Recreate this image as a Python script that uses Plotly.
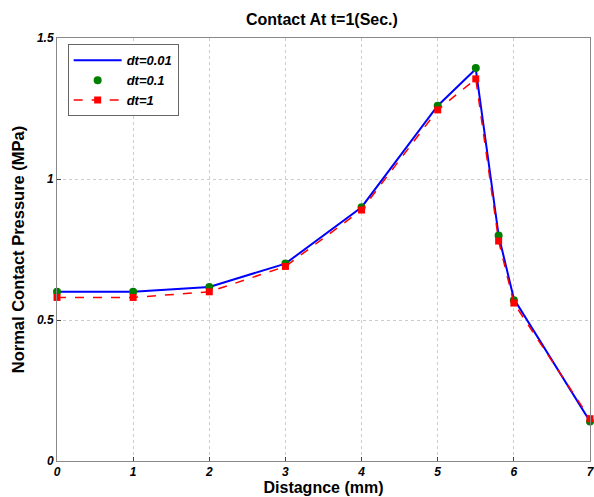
import plotly.graph_objects as go

x_vals = [0, 1, 2, 3, 4, 5, 5.5, 5.8, 6, 7]
dt001 = [0.60, 0.60, 0.617, 0.70, 0.90, 1.26, 1.39, 0.80, 0.575, 0.14]
dt01 = [0.60, 0.60, 0.617, 0.70, 0.90, 1.26, 1.394, 0.80, 0.57, 0.14]
dt1 = [0.58, 0.58, 0.60, 0.69, 0.89, 1.245, 1.355, 0.78, 0.56, 0.15]
x_ticks = [0, 1, 2, 3, 4, 5, 6, 7]
y_ticks = [0, 0.5, 1, 1.5]
y_tick_text = ["0", "0.5", "1", "1.5"]

fig = go.Figure()
fig.add_trace(go.Scatter(x=x_vals, y=dt001, mode="lines", name="dt=0.01",
                         line=dict(color="#0000ff", width=2), cliponaxis=False))
fig.add_trace(go.Scatter(x=x_vals, y=dt01, mode="markers", name="dt=0.1",
                         marker=dict(color="#007f00", size=8, symbol="circle"),
                         cliponaxis=False))
fig.add_trace(go.Scatter(x=x_vals, y=dt1, mode="lines+markers", name="dt=1",
                         line=dict(color="#ff0000", width=1.5, dash="dash"),
                         marker=dict(color="#ff0000", size=7, symbol="square"),
                         cliponaxis=False))

fig.update_layout(
    width=594, height=497,
    margin=dict(l=57, r=4, t=38, b=36),
    paper_bgcolor="white", plot_bgcolor="white",
    font=dict(family="Liberation Sans, Arial, sans-serif", color="black"),
    title=dict(text="<b>Contact At t=1(Sec.)</b>", x=0.542, xanchor="center",
               y=0.96, yanchor="middle", font=dict(size=16)),
    legend=dict(x=0.02, y=0.985, xanchor="left", yanchor="top",
                bordercolor="#666666", borderwidth=1, bgcolor="white",
                font=dict(size=13, style="italic", weight="bold"),
                itemwidth=48, tracegroupgap=0),
    showlegend=True,
)
fig.update_xaxes(
    range=[0, 7], tickvals=x_ticks, ticks="inside", ticklen=4,
    tickfont=dict(size=12, style="italic", weight="bold"),
    ticklabeloverflow="allow", automargin=False,
    showline=True, linecolor="#888888", mirror=True,
    showgrid=True, gridcolor="#cccccc", griddash="dot", gridwidth=1,
    zeroline=False,
    title=dict(text="<b>Distagnce (mm)</b>", font=dict(size=16), standoff=0),
)
fig.update_yaxes(
    range=[0, 1.5], tickvals=y_ticks, ticktext=y_tick_text, ticks="inside", ticklen=4,
    tickfont=dict(size=12, style="italic", weight="bold"),
    automargin=False,
    showline=True, linecolor="#888888", mirror=True,
    showgrid=True, gridcolor="#cccccc", griddash="dot", gridwidth=1,
    zeroline=False,
    title=dict(text="<b>Normal Contact Pressure (MPa)</b>", font=dict(size=16.5), standoff=8),
)

fig.write_html("out.html", config={"displayModeBar": False},
               post_script="document.body.style.margin='0';document.body.style.overflow='hidden';")
